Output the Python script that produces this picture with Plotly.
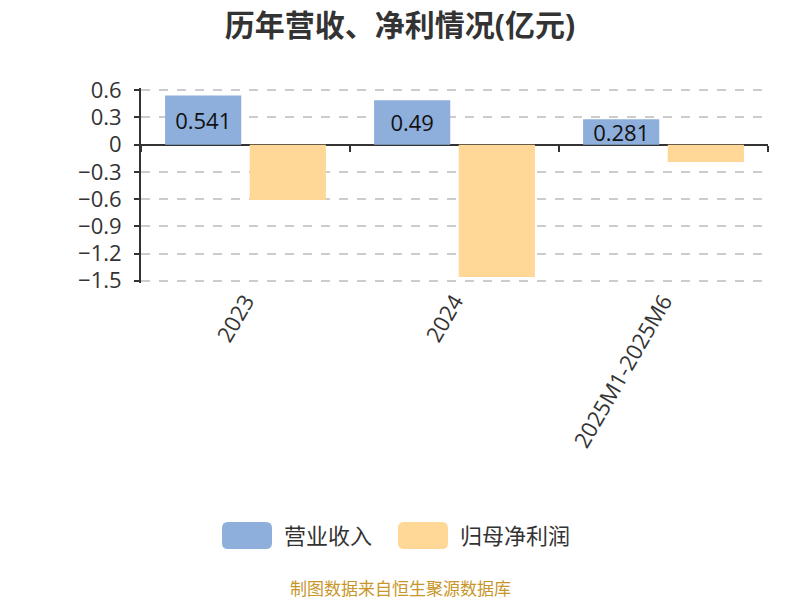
import plotly.graph_objects as go

# values in 亿元
periods = ["2023", "2024", "2025M1-2025M6"]
revenue = [0.541, 0.49, 0.281]
net_profit = [-0.61, -1.46, -0.19]
series_names = ["营业收入", "归母净利润"]

FONT = "Open Sans, Noto Sans CJK SC, sans-serif"
BLUE = "#8eaedb"
ORANGE = "#ffd797"
TEXT = "#333333"

Y_MIN, Y_MAX = -1.5, 0.6
PAD = 0.025  # small padding so the grid lines at both ends are drawn

# the page body adds an 8px offset, so target pixels are shifted back by it
OFF = 8
L, R, T, B = 141 - OFF, 32 + OFF, 88 - OFF, 317 + OFF
PW, PH = 800 - L - R, 600 - T - B


def px_x(x):
    return (x - OFF - L) / PW


def px_y(y):
    return (600 - B - (y - OFF)) / PH


def rounded_rect(x0, y0, x1, y1, r=6):
    # pixel box -> svg path in paper coords
    pts = [
        f"M {px_x(x0 + r)},{px_y(y0)}",
        f"L {px_x(x1 - r)},{px_y(y0)}",
        f"Q {px_x(x1)},{px_y(y0)} {px_x(x1)},{px_y(y0 + r)}",
        f"L {px_x(x1)},{px_y(y1 - r)}",
        f"Q {px_x(x1)},{px_y(y1)} {px_x(x1 - r)},{px_y(y1)}",
        f"L {px_x(x0 + r)},{px_y(y1)}",
        f"Q {px_x(x0)},{px_y(y1)} {px_x(x0)},{px_y(y1 - r)}",
        f"L {px_x(x0)},{px_y(y0 + r)}",
        f"Q {px_x(x0)},{px_y(y0)} {px_x(x0 + r)},{px_y(y0)}",
        "Z",
    ]
    return " ".join(pts)


fig = go.Figure()

fig.add_trace(
    go.Bar(
        x=periods,
        y=revenue,
        name=series_names[0],
        marker=dict(color=BLUE, line=dict(width=0)),
        text=[f"{v:g}" for v in revenue],
        textposition="inside",
        insidetextanchor="middle",
        constraintext="none",
        textfont=dict(size=22, color="#111111", family=FONT),
        showlegend=False,
    )
)
fig.add_trace(
    go.Bar(
        x=periods,
        y=net_profit,
        name=series_names[1],
        marker=dict(color=ORANGE, line=dict(width=0)),
        textposition="none",
        showlegend=False,
    )
)

# invisible helper so the second x axis (tick marks on the zero line) is drawn
fig.add_trace(
    go.Scatter(
        x=periods,
        y=[None] * len(periods),
        xaxis="x2",
        mode="lines",
        showlegend=False,
        hoverinfo="skip",
    )
)

# hand-drawn legend with rounded swatches
legend_items = [(series_names[0], BLUE, 222), (series_names[1], ORANGE, 398)]
shapes = []
annotations = []
for name, color, x0 in legend_items:
    shapes.append(
        dict(
            type="path",
            xref="paper",
            yref="paper",
            path=rounded_rect(x0, 522, x0 + 50, 549),
            fillcolor=color,
            line=dict(width=0),
        )
    )
    annotations.append(
        dict(
            text=name,
            xref="paper",
            yref="paper",
            x=px_x(x0 + 60),
            y=px_y(535),
            xanchor="left",
            yanchor="middle",
            showarrow=False,
            font=dict(size=22, color=TEXT, family=FONT),
        )
    )

annotations.append(
    dict(
        text="制图数据来自恒生聚源数据库",
        xref="paper",
        yref="paper",
        x=px_x(400),
        y=px_y(588),
        xanchor="center",
        yanchor="middle",
        showarrow=False,
        font=dict(size=17, color="#c8962a", family=FONT),
    )
)

y_lo, y_hi = Y_MIN - PAD, Y_MAX + PAD

fig.update_layout(
    width=800,
    height=600,
    margin=dict(l=L, r=R, t=T, b=B, autoexpand=False),
    paper_bgcolor="white",
    plot_bgcolor="white",
    font=dict(family=FONT, color=TEXT),
    title=dict(
        text="<b>历年营收、净利情况(亿元)</b>",
        x=(400 - OFF) / 800,
        xanchor="center",
        y=1 - (25 - OFF) / 600,
        yanchor="middle",
        font=dict(size=30, color=TEXT, family=FONT),
    ),
    barmode="group",
    bargap=0.19,
    bargroupgap=0.1,
    showlegend=False,
    xaxis=dict(
        type="category",
        showline=False,
        ticks="",
        showgrid=False,
        tickangle=-60,
        tickfont=dict(size=22, color=TEXT, family=FONT),
    ),
    xaxis2=dict(
        matches="x",
        overlaying="x",
        anchor="free",
        position=(0 - y_lo) / (y_hi - y_lo),
        showline=False,
        ticks="outside",
        tickson="boundaries",
        ticklen=6,
        tickwidth=2,
        tickcolor=TEXT,
        showticklabels=False,
        showgrid=False,
    ),
    yaxis=dict(
        range=[y_lo, y_hi],
        dtick=0.3,
        tick0=0,
        showline=True,
        linecolor=TEXT,
        linewidth=2,
        ticks="outside",
        ticklen=5,
        tickwidth=2,
        tickcolor=TEXT,
        ticklabelstandoff=8,
        showgrid=True,
        gridcolor="#cccccc",
        griddash="dash",
        gridwidth=1.5,
        zeroline=True,
        zerolinecolor=TEXT,
        zerolinewidth=2,
        tickfont=dict(size=22, color=TEXT, family=FONT),
    ),
    shapes=shapes,
    annotations=annotations,
)

fig.write_html("out.html")
